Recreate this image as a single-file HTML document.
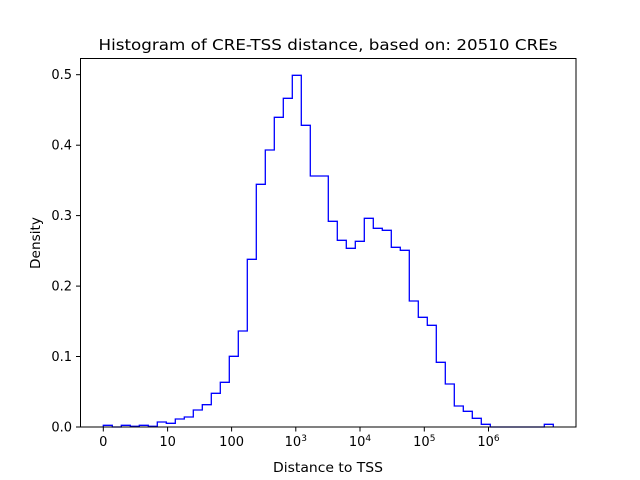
<!DOCTYPE html>
<html><head><meta charset="utf-8"><style>
html,body{margin:0;padding:0;background:#fff;}
svg{display:block;font-family:"DejaVu Sans","Liberation Sans",sans-serif;}
</style></head><body>
<svg width="640" height="480" viewBox="0 0 640 480" xmlns="http://www.w3.org/2000/svg">
<rect width="640" height="480" fill="#fff"/>
<path fill="none" stroke="#0000ff" stroke-width="1.3" stroke-linejoin="miter" d="M103.3,427 V425.3 H112.3 V427 H121.3 V425.3 H130.3 V426.3 H139.3 V425.3 H148.3 V426.3 H157.3 V422 H166.3 V423.3 H175.3 V419 H184.3 V417 H193.3 V410 H202.3 V404.7 H211.3 V393.3 H220.3 V382.3 H229.3 V356.3 H238.3 V331 H247.3 V259.3 H256.3 V184.3 H265.3 V150 H274.3 V117.3 H283.3 V98.3 H292.3 V75.3 H301.3 V125.3 H310.3 V176 H328.3 V221.3 H337.3 V240.3 H346.3 V248.3 H355.3 V241.3 H364.3 V218.3 H373.3 V228.3 H382.3 V230.3 H391.3 V247.3 H400.3 V250.3 H409.3 V301 H418.3 V317.3 H427.3 V325.3 H436.3 V362.3 H445.3 V384 H454.3 V406 H463.3 V411.3 H472.3 V418.3 H481.3 V424.3 H490.3 V427 H544.3 V424.3 H553.3 V427"/>
<rect x="80.5" y="58.5" width="495.5" height="368.5" fill="none" stroke="#000" stroke-width="1"/>
<g stroke="#000" stroke-width="1">
<line x1="103.3" y1="427" x2="103.3" y2="431.5"/>
<line x1="167.6" y1="427" x2="167.6" y2="431.5"/>
<line x1="231.6" y1="427" x2="231.6" y2="431.5"/>
<line x1="295.8" y1="427" x2="295.8" y2="431.5"/>
<line x1="360" y1="427" x2="360" y2="431.5"/>
<line x1="424.3" y1="427" x2="424.3" y2="431.5"/>
<line x1="488.5" y1="427" x2="488.5" y2="431.5"/>
<line x1="76" y1="427" x2="80.5" y2="427"/>
<line x1="76" y1="356.5" x2="80.5" y2="356.5"/>
<line x1="76" y1="286.1" x2="80.5" y2="286.1"/>
<line x1="76" y1="215.6" x2="80.5" y2="215.6"/>
<line x1="76" y1="145.2" x2="80.5" y2="145.2"/>
<line x1="76" y1="74.7" x2="80.5" y2="74.7"/>
</g>
<g font-size="13" fill="#000" text-anchor="middle">
<text x="103.3" y="446">0</text>
<text x="167.6" y="446">10</text>
<text x="231.6" y="446">100</text>
<text x="295.8" y="446">10<tspan font-size="9" dy="-5">3</tspan></text>
<text x="360" y="446">10<tspan font-size="9" dy="-5">4</tspan></text>
<text x="424.3" y="446">10<tspan font-size="9" dy="-5">5</tspan></text>
<text x="488.5" y="446">10<tspan font-size="9" dy="-5">6</tspan></text>
<text x="328" y="472" textLength="110" lengthAdjust="spacingAndGlyphs">Distance to TSS</text>
</g>
<g font-size="13" fill="#000" text-anchor="end">
<text x="72" y="431.5">0.0</text>
<text x="72" y="361">0.1</text>
<text x="72" y="290.6">0.2</text>
<text x="72" y="220.1">0.3</text>
<text x="72" y="149.7">0.4</text>
<text x="72" y="79.2">0.5</text>
</g>
<text x="40" y="243" font-size="13" text-anchor="middle" transform="rotate(-90 40 243)" textLength="52" lengthAdjust="spacingAndGlyphs">Density</text>
<text x="328" y="50" font-size="15.5" text-anchor="middle" textLength="459" lengthAdjust="spacingAndGlyphs">Histogram of CRE-TSS distance, based on: 20510 CREs</text>
</svg>
</body></html>
